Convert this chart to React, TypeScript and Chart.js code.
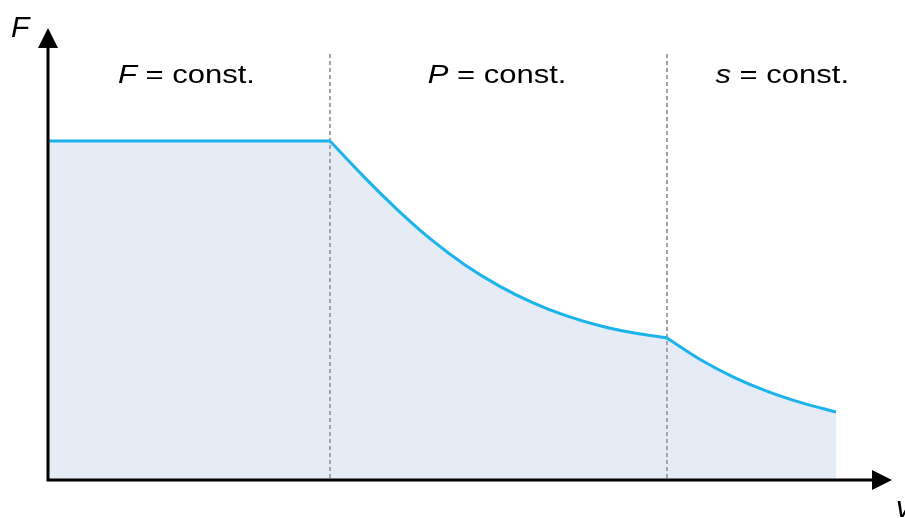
import React, { useEffect, useRef } from "react";
import { Chart, registerables } from "chart.js";

Chart.register(...registerables);

// Region 1: F = const.
const flatV = [0, 33.41];
const flatF = [75.0, 75.0];
// Region 2: P = const.
const powerV = [33.41, 37.44, 41.35, 45.38, 49.41, 53.44, 57.35, 61.37, 65.4, 69.31, 73.34];
const powerF = [75.0, 67.06, 59.89, 53.23, 47.59, 42.96, 39.31, 36.35, 34.11, 32.57, 31.42];
// Region 3: s = const.
const sV = [73.34, 77.37, 81.4, 85.31, 89.34, 93.36];
const sF = [31.42, 26.55, 22.61, 19.56, 17.06, 15.04];

const boundaries = [33.41, 73.34];
const regionLabels = [
  { x: 16.4, parts: [["F", true], [" = const.", false]] },
  { x: 53.2, parts: [["P", true], [" = const.", false]] },
  { x: 87.0, parts: [["s", true], [" = const.", false]] },
];
const yAxisLabel = "F";
const xAxisLabel = "v";

const LINE = "#1ab3ec";
const FILL = "#e6ecf6";

const toPts = (xs: number[], ys: number[]) => xs.map((x, i) => ({ x, y: ys[i] }));

export default function App() {
  const ref = useRef<HTMLCanvasElement | null>(null);
  useEffect(() => {
    const canvas = ref.current!;
    const deco = {
      id: "deco",
      beforeDatasetsDraw(chart: any) {
        const { ctx, chartArea, scales } = chart;
        ctx.save();
        ctx.strokeStyle = "#a3a3a3";
        ctx.lineWidth = 2;
        ctx.setLineDash([4, 3]);
        boundaries.forEach((b) => {
          const px = Math.round(scales.x.getPixelForValue(b));
          ctx.beginPath();
          ctx.moveTo(px, 54);
          ctx.lineTo(px, chartArea.bottom);
          ctx.stroke();
        });
        ctx.restore();
      },
      afterDatasetsDraw(chart: any) {
        const { ctx, chartArea, scales } = chart;
        const L = chartArea.left;
        const B = chartArea.bottom;
        const T = chartArea.top;
        const R = chartArea.right;
        ctx.save();
        ctx.strokeStyle = "#000";
        ctx.fillStyle = "#000";
        ctx.lineWidth = 3;
        ctx.beginPath();
        ctx.moveTo(L, B);
        ctx.lineTo(L, T + 18);
        ctx.moveTo(L - 1.5, B);
        ctx.lineTo(R - 18, B);
        ctx.stroke();
        // arrowheads
        ctx.beginPath();
        ctx.moveTo(L, T);
        ctx.lineTo(L - 10, T + 20);
        ctx.lineTo(L + 10, T + 20);
        ctx.closePath();
        ctx.fill();
        ctx.beginPath();
        ctx.moveTo(R, B);
        ctx.lineTo(R - 20, B - 10);
        ctx.lineTo(R - 20, B + 10);
        ctx.closePath();
        ctx.fill();

        // axis labels
        ctx.font = "italic 30px 'Liberation Sans', Arial, sans-serif";
        ctx.textBaseline = "alphabetic";
        ctx.textAlign = "left";
        ctx.fillText(yAxisLabel, 11, 37);
        ctx.fillText(xAxisLabel, 896, 517);

        // region labels (horizontally stretched)
        const sx = 1.24;
        const fs = 25;
        regionLabels.forEach((lab) => {
          const cx = scales.x.getPixelForValue(lab.x);
          let total = 0;
          const widths = lab.parts.map(([t, it]) => {
            ctx.font = `${it ? "italic " : ""}${fs}px 'Liberation Sans', Arial, sans-serif`;
            const w = ctx.measureText(t as string).width;
            total += w;
            return w;
          });
          ctx.save();
          ctx.translate(cx, 83);
          ctx.scale(sx, 1);
          let x = -total / 2;
          lab.parts.forEach(([t, it], i) => {
            ctx.font = `${it ? "italic " : ""}${fs}px 'Liberation Sans', Arial, sans-serif`;
            ctx.fillText(t as string, x, 0);
            x += widths[i];
          });
          ctx.restore();
        });
        ctx.restore();
      },
    };
    const mk = (xs: number[], ys: number[]) => ({
      data: toPts(xs, ys),
      borderColor: LINE,
      backgroundColor: FILL,
      borderWidth: 3,
      pointRadius: 0,
      fill: "origin",
      cubicInterpolationMode: "monotone" as const,
    });
    const chart = new Chart(canvas, {
      type: "line",
      data: {
        datasets: [mk(flatV, flatF), mk(powerV, powerF), mk(sV, sF)],
      },
      options: {
        animation: false,
        responsive: false,
        layout: { padding: { left: 48, right: 13, top: 28, bottom: 38 } },
        scales: {
          x: { type: "linear", min: 0, max: 100, display: false },
          y: { type: "linear", min: 0, max: 100, display: false },
        },
        plugins: {
          legend: { display: false },
          tooltip: { enabled: false },
          filler: { drawTime: "beforeDatasetsDraw" },
        } as any,
      },
      plugins: [deco],
    });
    return () => chart.destroy();
  }, []);
  return (
    <div style={{ position: "absolute", left: 0, top: 0, width: 905, height: 518, background: "#fff" }}>
      <canvas ref={ref} width={905} height={518} style={{ display: "block" }} />
    </div>
  );
}
